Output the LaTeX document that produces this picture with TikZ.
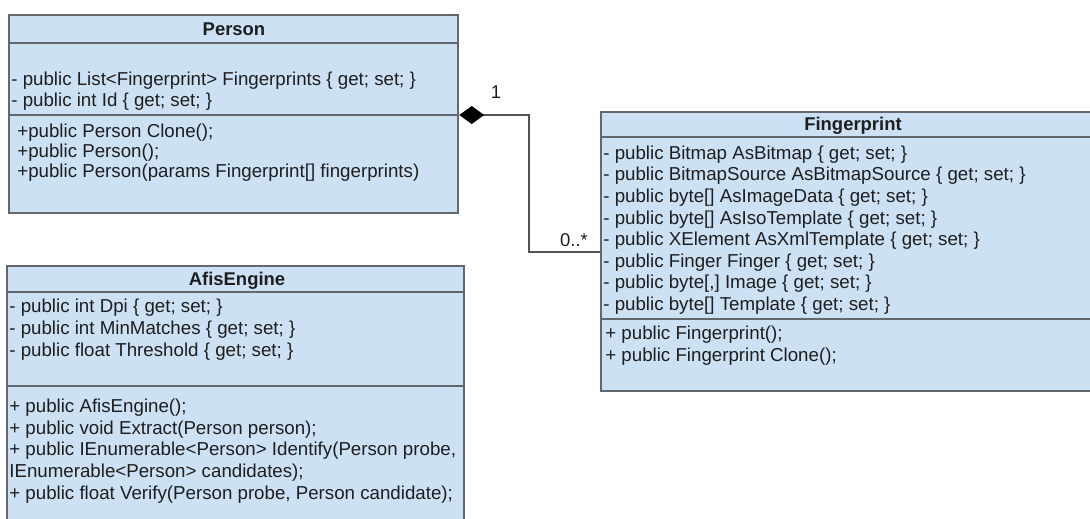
\documentclass[tikz,border=0pt]{standalone}
\usepackage{fontspec}
\setmainfont{Liberation Sans}
\usetikzlibrary{arrows.meta,fit}
\definecolor{classfill}{RGB}{205,225,245}
\definecolor{classdraw}{RGB}{100,104,110}
\definecolor{membertext}{RGB}{30,30,30}
\tikzset{
  classbox/.style={draw=classdraw, fill=classfill, line width=1.4pt, inner sep=0pt},
  divider/.style={draw=classdraw, line width=1.4pt},
  member/.style={anchor=west, inner sep=0pt, text height=0.75em, text depth=0.25em, text=membertext, font=\fontsize{10.65}{12}\selectfont},
  classname/.style={inner sep=0pt, text=membertext, font=\bfseries\fontsize{10.5}{12}\selectfont},
  assoc/.style={draw=classdraw!80!black, line width=1.1pt},
  mult/.style={inner sep=0pt, text=membertext, font=\fontsize{10.5}{12}\selectfont}
}

\begin{document}
\begin{tikzpicture}[x=0.02cm,y=-0.02cm]
\useasboundingbox (0,0) rectangle (1090,518);
\clip (0,0) rectangle (1090,518);
% classes
\node[classbox, fit={(9,15) (458,213)}] (person) {};
\node[classbox, fit={(7,266) (464,540)}] (afis) {};
\node[classbox, fit={(601,112) (1110,391)}] (fp) {};
% compartments
\draw[divider] (9,43) -- (458,43);
\draw[divider] (9,115) -- (458,115);
\draw[divider] (7,292) -- (464,292);
\draw[divider] (7,386) -- (464,386);
\draw[divider] (601,137) -- (1110,137);
\draw[divider] (601,319) -- (1110,319);
% names
\node[classname] (personname) at (234,29) {Person};
\node[classname] (afisname) at (237,281) {AfisEngine};
\node[classname] (fpname) at (853,126) {Fingerprint};
% Person
\foreach \m [count=\i from 0] in {{- public List<Fingerprint> Fingerprints \{ get; set; \}},
    {- public int Id \{ get; set; \}}}
  \node[member] (pattr\i) at (11,81+21*\i) {\m};
\foreach \m [count=\i from 0] in {{+public Person Clone();}, {+public Person();},
    {+public Person(params Fingerprint[] fingerprints)}}
  \node[member] (pop\i) at (17,133+20*\i) {\m};
% AfisEngine
\foreach \m [count=\i from 0] in {{- public int Dpi \{ get; set; \}},
    {- public int MinMatches \{ get; set; \}},
    {- public float Threshold \{ get; set; \}}}
  \node[member] (aattr\i) at (9,308+22*\i) {\m};
\foreach \m [count=\i from 0] in {{+ public AfisEngine();},
    {+ public void Extract(Person person);},
    {+ public IEnumerable<Person> Identify(Person probe,},
    {IEnumerable<Person> candidates);},
    {+ public float Verify(Person probe, Person candidate);}}
  \node[member] (aop\i) at (9,408+21.75*\i) {\m};
% Fingerprint
\foreach \m [count=\i from 0] in {{- public Bitmap AsBitmap \{ get; set; \}},
    {- public BitmapSource AsBitmapSource \{ get; set; \}},
    {- public byte[] AsImageData \{ get; set; \}},
    {- public byte[] AsIsoTemplate \{ get; set; \}},
    {- public XElement AsXmlTemplate \{ get; set; \}},
    {- public Finger Finger \{ get; set; \}},
    {- public byte[,] Image \{ get; set; \}},
    {- public byte[] Template \{ get; set; \}}}
  \node[member] (fattr\i) at (603,155+21.6*\i) {\m};
\foreach \m [count=\i from 0] in {{+ public Fingerprint();}, {+ public Fingerprint Clone();}}
  \node[member] (fop\i) at (605,335+22*\i) {\m};
% composition
\coordinate (bend) at (529,115);
\coordinate (lowbend) at (529,252);
\draw[assoc, {Diamond[length=0.5cm,width=0.36cm,color=black]}-] (person.east |- bend) -- (bend) -- (lowbend) -- (lowbend -| fp.west);
\node[mult] (onemult) at (496,92) {1};
\node[mult] (manymult) at (574,240) {0..*};
\end{tikzpicture}
\end{document}
